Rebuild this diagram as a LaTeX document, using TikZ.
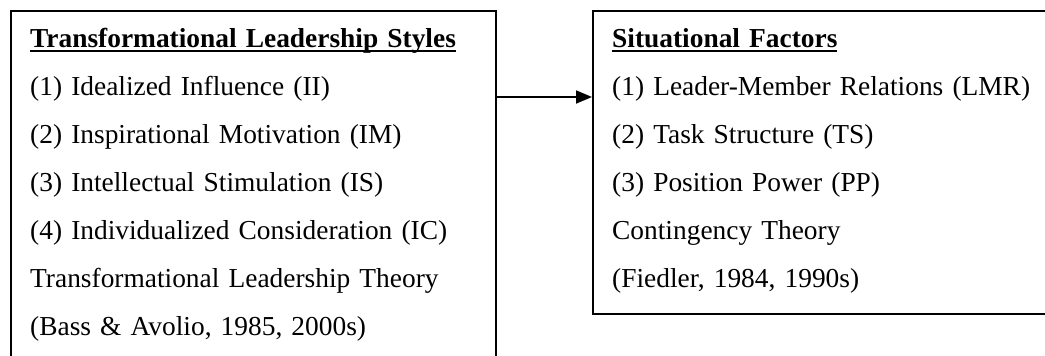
\documentclass[tikz,border=0pt]{standalone}
\usepackage{fontspec}
\setmainfont{Liberation Serif}
\usetikzlibrary{arrows.meta, calc, positioning}
\tikzstyle{box} = [rectangle, line width=1.8pt, draw=black, inner sep=0pt, anchor=north west]
\tikzstyle{boxtext} = [inner sep=0pt, anchor=north west, align=left, font=\fontsize{27.4}{48}\selectfont]
\tikzstyle{arrow} = [line width=1.8pt, -{Triangle[length=16pt, width=13pt]}]
\newsavebox{\headbox}
\newcommand{\headline}[1]{\strut\sbox{\headbox}{\textbf{#1}}\usebox{\headbox}\llap{\rule[-4.5pt]{\wd\headbox}{2pt}}}

\begin{document}
\begin{tikzpicture}[x=1pt, y=-1pt]
		\clip (0,0) rectangle (1045,356);
		\node (StylesBox) [box, minimum width=485pt, minimum height=400pt] at (10,10) {};
		\node (FactorsBox) [box, minimum width=480pt, minimum height=303pt] at (592,10) {};

		\node (Styles) [boxtext, text width=460pt] at (30,13.4) {
			\headline{Transformational Leadership Styles}\\
			(1) Idealized Influence (II)\\
			(2) Inspirational Motivation (IM)\\
			(3) Intellectual Stimulation (IS)\\
			(4) Individualized Consideration (IC)\\
			Transformational Leadership Theory\\
			(Bass \& Avolio, 1985, 2000s)
		};
		\node (Factors) [boxtext, text width=430pt] at (612,13.4) {
			\headline{Situational Factors}\\
			(1) Leader-Member Relations (LMR)\\
			(2) Task Structure (TS)\\
			(3) Position Power (PP)\\
			Contingency Theory\\
			(Fiedler, 1984, 1990s)
		};

		\path (StylesBox.north east) ++(0,87) coordinate (ArrowStart);
		\draw [arrow] (ArrowStart) -- (ArrowStart -| FactorsBox.west);
\end{tikzpicture}
\end{document}
